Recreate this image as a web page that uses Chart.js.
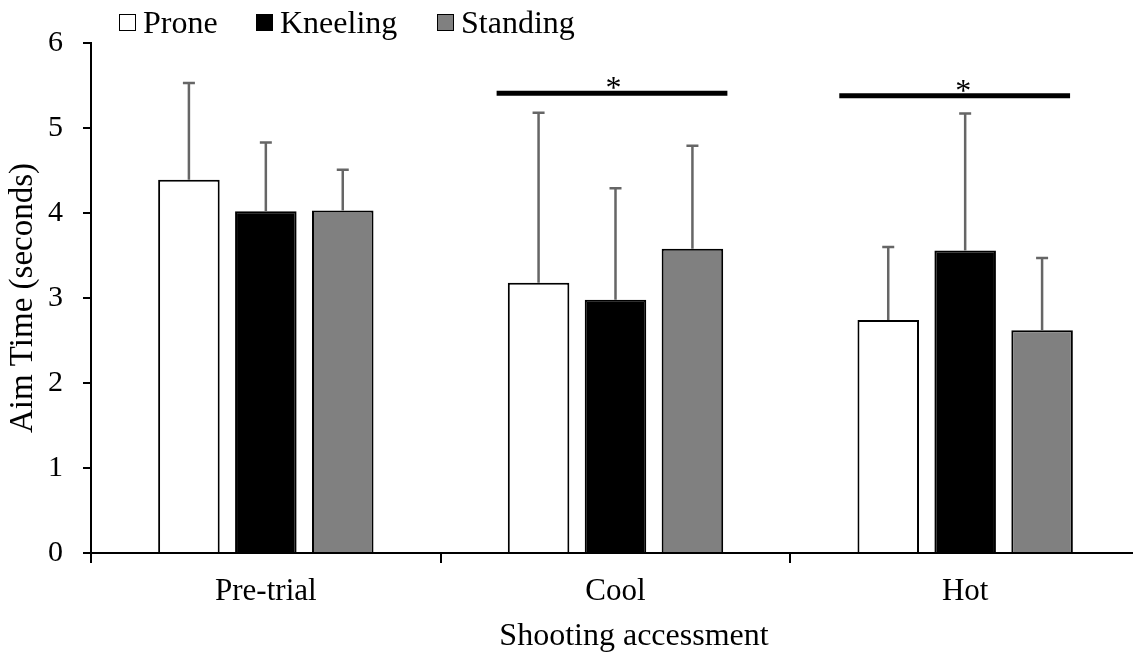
<!DOCTYPE html>
<html lang="en">
<head>
    <meta charset="UTF-8">
    <title>Aim Time</title>
    <script src="https://cdn.jsdelivr.net/npm/chart.js"></script>
    <style>
        body { margin: 0; background: #fff; overflow: hidden; }
        .wrap { position: relative; width: 1133px; height: 658px; overflow: hidden; }
        #chart { position: absolute; left: 0; top: 0; }

        /* legend row above the plot */
        .legend-item {
            position: absolute;
            top: 6px;
            font: 32px/32px "Liberation Serif", "Times New Roman", serif;
            color: #000;
            white-space: nowrap;
        }
        .legend-box {
            position: absolute;
            top: 8px;
            width: 15px;
            height: 15px;
            border: 1.5px solid #000;
        }
        .legend-text { position: absolute; white-space: nowrap; }

        .x-title {
            position: absolute;
            top: 618px;
            left: 0;
            width: 1268px; /* centered around x=634 */
            text-align: center;
            font: 32px/32px "Liberation Serif", "Times New Roman", serif;
            color: #000;
        }
    </style>
</head>
<body>
<div class="wrap">
    <canvas id="chart" width="1140" height="658"></canvas>
    <div id="legend"></div>
    <div class="x-title">Shooting accessment</div>
</div>

<script>
    // chart data
    const categories = ['Pre-trial', 'Cool', 'Hot'];
    const seriesNames = ['Prone', 'Kneeling', 'Standing'];
    const prone = [4.39, 3.18, 2.74];
    const kneeling = [4.02, 2.98, 3.56];
    const standing = [4.03, 3.58, 2.62];
    // upward error bars (SD)
    const proneSD = [1.14, 2.00, 0.86];
    const kneelingSD = [0.81, 1.31, 1.61];
    const standingSD = [0.48, 1.21, 0.85];
    const yTicks = [0, 1, 2, 3, 4, 5, 6];
    // significance markers: category, height, span (in category units)
    const sigCategory = ['Cool', 'Hot'];
    const sigLevel = [5.41, 5.38];
    const sigFrom = [-0.34, -0.36];
    const sigTo = [0.32, 0.30];

    const fillColors = ['#ffffff', '#000000', '#808080'];
    const serif = '"Liberation Serif", "Times New Roman", serif';

    // simple HTML legend
    const legendLeft = [119, 256, 437];
    const legendEl = document.getElementById('legend');
    seriesNames.forEach((name, i) => {
        const item = document.createElement('div');
        item.className = 'legend-item';
        item.style.left = legendLeft[i] + 'px';
        item.innerHTML = '<span class="legend-box" style="left:0;background:' + fillColors[i] + '"></span>' +
                         '<span class="legend-text" style="left:24px">' + name + '</span>';
        legendEl.appendChild(item);
    });

    // draws the upward error bars
    const errorBars = {
        id: 'errorBars',
        afterDatasetsDraw(chart) {
            const ctx = chart.ctx;
            const y = chart.scales.y;
            ctx.save();
            ctx.strokeStyle = '#666666';
            ctx.lineWidth = 2.5;
            chart.data.datasets.forEach((ds, di) => {
                const meta = chart.getDatasetMeta(di);
                meta.data.forEach((bar, i) => {
                    const top = y.getPixelForValue(ds.data[i] + ds.errors[i]);
                    ctx.beginPath();
                    ctx.moveTo(bar.x, bar.y);
                    ctx.lineTo(bar.x, top);
                    ctx.moveTo(bar.x - 6, top);
                    ctx.lineTo(bar.x + 6, top);
                    ctx.stroke();
                });
            });
            ctx.restore();
        }
    };

    // significance lines with asterisks
    const sigMarks = {
        id: 'sigMarks',
        afterDraw(chart) {
            const ctx = chart.ctx;
            const x = chart.scales.x;
            const y = chart.scales.y;
            const catW = (x.right - x.left) / categories.length;
            ctx.save();
            ctx.fillStyle = '#000';
            ctx.strokeStyle = '#000';
            sigCategory.forEach((cat, i) => {
                const cx = x.getPixelForValue(categories.indexOf(cat));
                const py = y.getPixelForValue(sigLevel[i]);
                ctx.lineWidth = 5;
                ctx.beginPath();
                ctx.moveTo(cx + sigFrom[i] * catW, py);
                ctx.lineTo(cx + sigTo[i] * catW, py);
                ctx.stroke();
                ctx.font = '32px ' + serif;
                ctx.textAlign = 'center';
                ctx.textBaseline = 'alphabetic';
                ctx.fillText('*', cx - 2, py + 5);
            });
            ctx.restore();
        }
    };

    const makeSet = (label, data, errors, color) => ({
        label: label,
        data: data,
        errors: errors,
        backgroundColor: color,
        borderColor: '#000',
        borderWidth: 2,
        categoryPercentage: 0.66,
        barPercentage: 0.8
    });

    new Chart(document.getElementById('chart'), {
        type: 'bar',
        data: {
            labels: categories,
            datasets: [
                makeSet(seriesNames[0], prone, proneSD, fillColors[0]),
                makeSet(seriesNames[1], kneeling, kneelingSD, fillColors[1]),
                makeSet(seriesNames[2], standing, standingSD, fillColors[2])
            ]
        },
        options: {
            responsive: false,
            animation: false,
            layout: { padding: { top: 43, right: 0, bottom: 0, left: 0 } },
            plugins: {
                legend: { display: false },
                tooltip: { enabled: false }
            },
            scales: {
                x: {
                    offset: true,
                    grid: {
                        offset: true,
                        drawOnChartArea: false,
                        drawTicks: true,
                        tickLength: 10,
                        color: '#000',
                        lineWidth: 2
                    },
                    border: { display: true, color: '#000', width: 2 },
                    ticks: {
                        color: '#000',
                        padding: 10,
                        font: { family: serif, size: 31 }
                    },
                    afterFit(scale) { scale.height = 105; }
                },
                y: {
                    min: 0,
                    max: 6,
                    afterBuildTicks(scale) { scale.ticks = yTicks.map(v => ({ value: v })); },
                    grid: {
                        drawOnChartArea: false,
                        drawTicks: true,
                        tickLength: 8,
                        color: '#000',
                        lineWidth: 2
                    },
                    border: { display: true, color: '#000', width: 2 },
                    ticks: {
                        color: '#000',
                        padding: 20,
                        font: { family: serif, size: 30 }
                    },
                    title: {
                        display: true,
                        text: 'Aim Time (seconds)',
                        color: '#000',
                        padding: { top: 4, bottom: 0 },
                        font: { family: serif, size: 33 }
                    },
                    afterFit(scale) { scale.width = 91; }
                }
            }
        },
        plugins: [errorBars, sigMarks]
    });
</script>
</body>
</html>
